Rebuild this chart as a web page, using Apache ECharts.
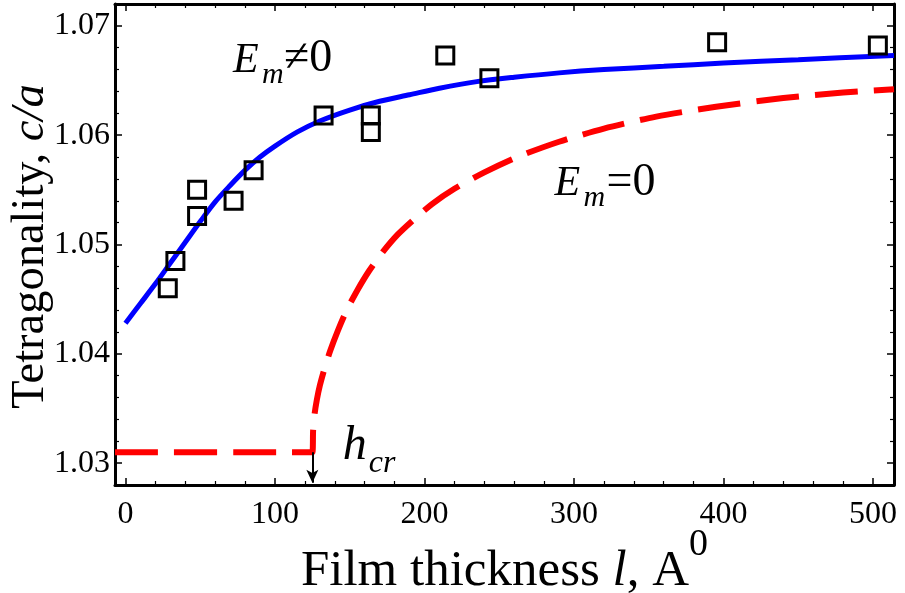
<!DOCTYPE html>
<html>
<head>
<meta charset="utf-8">
<script src="https://cdn.jsdelivr.net/npm/echarts@6/dist/echarts.min.js"></script>
<style>
  html, body { margin: 0; padding: 0; background: #fff; }
  #chart { width: 905px; height: 593px; }
</style>
</head>
<body>
<div id="chart"></div>
<script>
// Measured tetragonality (open squares)
const sampleThickness = [28.3, 33.4, 47.9, 47.9, 72.3, 85.7, 132.5, 164.1, 164.1, 213.9, 243.4, 395.7, 503.2];
const sampleRatio     = [1.0460, 1.0485, 1.0526, 1.0550, 1.0540, 1.0568, 1.0618, 1.0618, 1.0603, 1.0673, 1.0652, 1.0685, 1.0682];

// Calculated curve with depolarization field, E_m != 0 (solid blue)
const fieldThickness = [0, 10, 20, 30, 40, 50, 60, 70, 80, 90, 100, 115, 130, 150, 170, 190, 210, 235, 260, 290, 320, 360, 400, 450, 514];
const fieldRatio     = [1.0428, 1.0446, 1.0464, 1.0483, 1.0502, 1.0521, 1.0539, 1.0554, 1.0568, 1.0580, 1.0590, 1.0603, 1.0613, 1.0623, 1.0631, 1.0637, 1.0643, 1.0649, 1.0653, 1.0657, 1.0660, 1.0663, 1.0666, 1.0669, 1.0673];

// Calculated curve without field, E_m = 0 (dashed red)
const zeroThickness = [-7, 125, 125.5, 126.5, 128, 130, 133, 137, 142, 148, 155, 163, 172, 182, 193, 205, 220, 240, 262, 290, 320, 355, 395, 440, 480, 514];
const zeroRatio     = [1.0310, 1.0310, 1.0330, 1.0345, 1.0358, 1.0371, 1.0386, 1.0403, 1.0421, 1.0440, 1.0458, 1.0476, 1.0493, 1.0509, 1.0523, 1.0537, 1.0551, 1.0566, 1.0580, 1.0594, 1.0606, 1.0617, 1.0626, 1.0634, 1.0639, 1.0642];

// Critical thickness h_cr
const criticalThickness = 125;

// Tick labels
const xTickLabels = [0, 100, 200, 300, 400, 500];
const yTickLabels = [1.03, 1.04, 1.05, 1.06, 1.07];

const X_MIN = -7, X_MAX = 514;
const Y_MIN = 1.028, Y_MAX = 1.072;
const FONT = 'Liberation Serif';

const pairs = (xs, ys) => xs.map((x, i) => [x, ys[i]]);
const hasTick = (list, v) => list.some(t => Math.abs(t - v) < 1e-9);

const frameLine = { show: true, onZero: false, lineStyle: { color: '#000', width: 3 } };
const majorTick = { show: true, inside: true, length: 7, lineStyle: { color: '#000', width: 1.5 } };
const minorTick = { show: true, splitNumber: 5, length: 4, lineStyle: { color: '#000', width: 1.2 } };

const chart = echarts.init(document.getElementById('chart'), null, { renderer: 'canvas' });

const option = {
  backgroundColor: '#fff',
  animation: false,
  textStyle: { fontFamily: FONT, color: '#000' },
  grid: { left: 115, right: 11, top: 4, bottom: 108, containLabel: false, outerBoundsMode: 'none' },
  xAxis: [
    {
      type: 'value', position: 'bottom', min: X_MIN, max: X_MAX,
      axisLine: frameLine, axisTick: majorTick, minorTick: minorTick,
      splitLine: { show: false },
      axisLabel: {
        show: true, margin: 14, color: '#000', fontFamily: FONT, fontSize: 32,
        showMinLabel: false, showMaxLabel: false, hideOverlap: false,
        formatter: v => hasTick(xTickLabels, v) ? String(v) : ''
      },
      name: '{a|Film thickness }{i|l}{a|, A}{s|0}',
      nameLocation: 'middle', nameGap: 41, nameMoveOverlap: false,
      nameTextStyle: {
        color: '#000',
        rich: {
          a: { fontFamily: FONT, fontSize: 51, lineHeight: 71, verticalAlign: 'bottom', color: '#000' },
          i: { fontFamily: FONT, fontSize: 51, lineHeight: 71, fontStyle: 'italic', verticalAlign: 'bottom', color: '#000' },
          s: { fontFamily: FONT, fontSize: 38, lineHeight: 16, verticalAlign: 'top', color: '#000' }
        }
      }
    },
    {
      type: 'value', position: 'top', min: X_MIN, max: X_MAX,
      axisLine: frameLine, axisTick: majorTick, minorTick: minorTick,
      splitLine: { show: false }, axisLabel: { show: false }
    }
  ],
  yAxis: [
    {
      type: 'value', position: 'left', min: Y_MIN, max: Y_MAX,
      axisLine: frameLine, axisTick: majorTick, minorTick: minorTick,
      splitLine: { show: false },
      axisLabel: {
        show: true, margin: 5, color: '#000', fontFamily: FONT, fontSize: 32,
        showMinLabel: false, showMaxLabel: false, hideOverlap: false,
        formatter: v => hasTick(yTickLabels, v) ? v.toFixed(2) : ''
      },
      name: '{a|Tetragonality, }{i|c/a}',
      nameLocation: 'middle', nameRotate: 90, nameGap: 61, nameMoveOverlap: false,
      nameTextStyle: {
        color: '#000',
        padding: [0, 4, 0, 0],
        rich: {
          a: { fontFamily: FONT, fontSize: 46.5, color: '#000' },
          i: { fontFamily: FONT, fontSize: 46.5, fontStyle: 'italic', color: '#000' }
        }
      }
    },
    {
      type: 'value', position: 'right', min: Y_MIN, max: Y_MAX,
      axisLine: frameLine, axisTick: majorTick, minorTick: minorTick,
      splitLine: { show: false }, axisLabel: { show: false }
    }
  ],
  series: [
    {
      name: 'E_m = 0',
      type: 'line', xAxisIndex: 0, yAxisIndex: 0,
      data: pairs(zeroThickness, zeroRatio),
      showSymbol: false, symbol: 'none', smooth: 0.25, clip: true,
      lineStyle: { color: '#ff0000', width: 6, type: [43, 16], cap: 'butt' },
      z: 2,
      markLine: {
        silent: true, animation: false,
        symbol: ['none', 'arrow'], symbolSize: [9, 13],
        label: { show: false },
        lineStyle: { color: '#000', width: 2, type: 'solid' },
        data: [[
          { coord: [criticalThickness, zeroRatio[0]] },
          { coord: [criticalThickness, Y_MIN + 0.0002] }
        ]]
      }
    },
    {
      name: 'E_m ≠ 0',
      type: 'line', xAxisIndex: 0, yAxisIndex: 0,
      data: pairs(fieldThickness, fieldRatio),
      showSymbol: false, symbol: 'none', smooth: 0.3, clip: true,
      lineStyle: { color: '#0000ff', width: 5 },
      z: 3
    },
    {
      name: 'Experiment',
      type: 'scatter', xAxisIndex: 0, yAxisIndex: 0,
      data: pairs(sampleThickness, sampleRatio),
      symbol: 'rect', symbolSize: 17,
      itemStyle: { color: 'rgba(0,0,0,0)', borderColor: '#000', borderWidth: 3, opacity: 1 },
      z: 4
    }
  ]
};

chart.setOption(option);

// Text annotations anchored in data space; offsets are in pixels from the anchor baseline
function textPiece(anchor, dx, dy, text, size, italic) {
  const p = chart.convertToPixel({ gridIndex: 0 }, anchor);
  return {
    type: 'text', z: 10,
    x: p[0] + dx, y: p[1] + dy - 0.34 * size,
    style: {
      text: text, fill: '#000',
      font: (italic ? 'italic ' : '') + size + 'px "' + FONT + '"',
      align: 'left', verticalAlign: 'middle'
    }
  };
}

const fieldLabelAt = [72, 1.0655];
const zeroLabelAt = [287, 1.0542];
const hcrLabelAt = [145.4, 1.0300];

chart.setOption({
  graphic: [
    textPiece(fieldLabelAt, 0, 0, 'E', 42, true),
    textPiece(fieldLabelAt, 29, 10, 'm', 30, true),
    textPiece(fieldLabelAt, 51, 0, '≠0', 46, false),
    textPiece(zeroLabelAt, 0, 0, 'E', 42, true),
    textPiece(zeroLabelAt, 29, 10, 'm', 30, true),
    textPiece(zeroLabelAt, 52, 0, '=0', 46, false),
    textPiece(hcrLabelAt, 0, 0, 'h', 48, true),
    textPiece(hcrLabelAt, 26, 11, 'cr', 32, true)
  ]
});
</script>
</body>
</html>
